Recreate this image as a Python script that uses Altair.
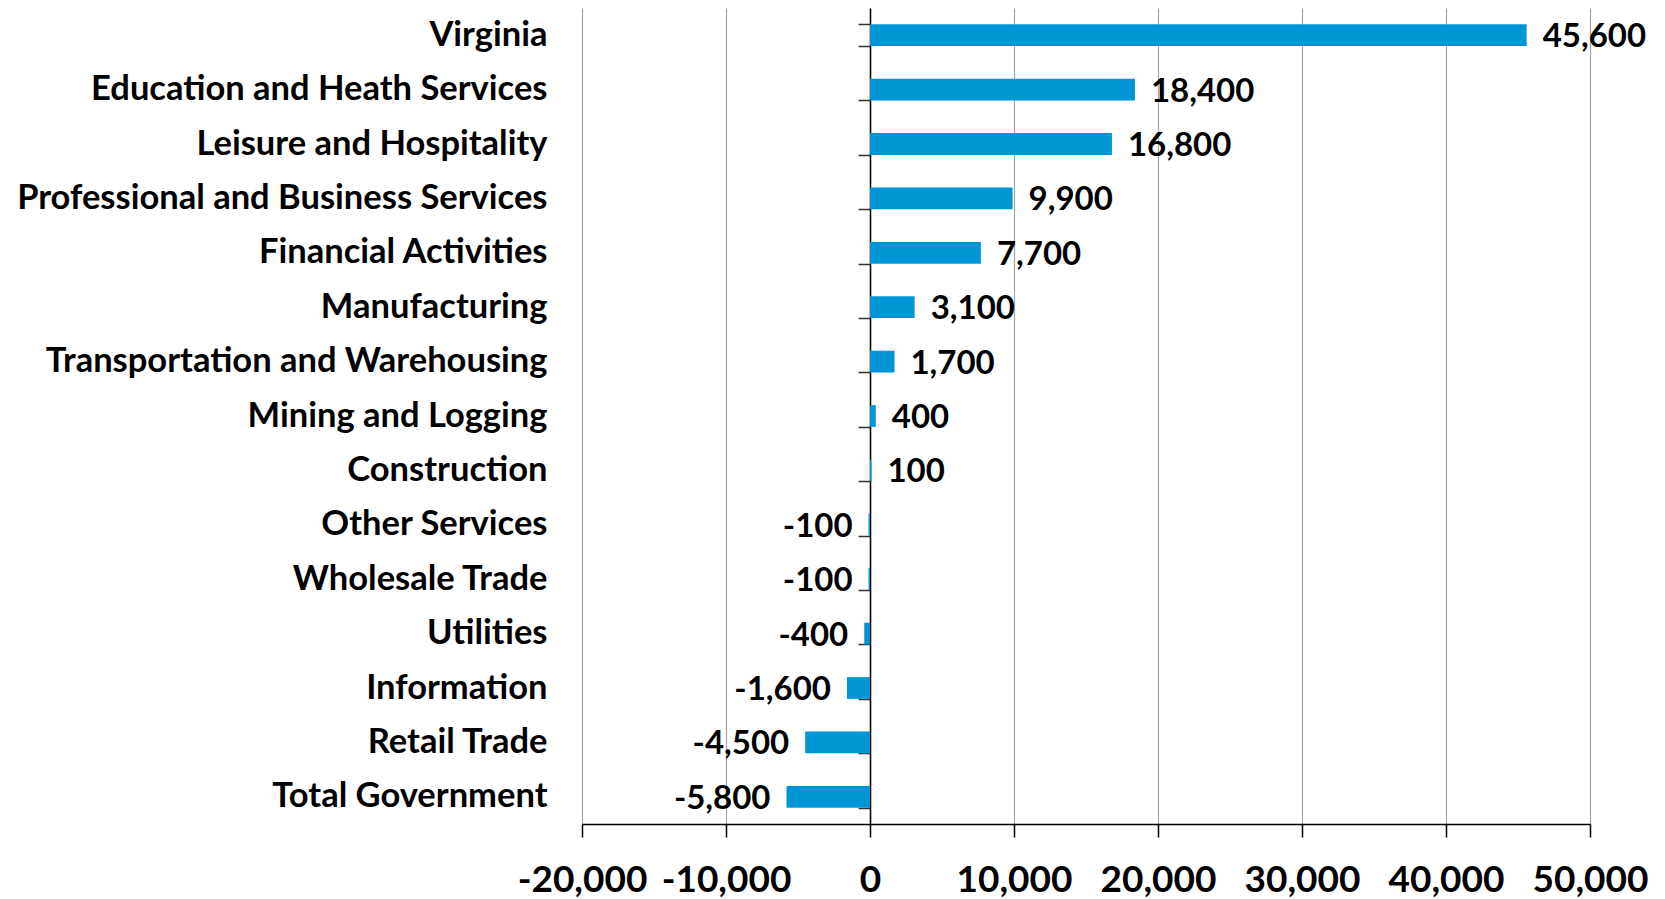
import altair as alt
import pandas as pd

categories = [
    "Virginia",
    "Education and Heath Services",
    "Leisure and Hospitality",
    "Professional and Business Services",
    "Financial Activities",
    "Manufacturing",
    "Transportation and Warehousing",
    "Mining and Logging",
    "Construction",
    "Other Services",
    "Wholesale Trade",
    "Utilities",
    "Information",
    "Retail Trade",
    "Total Government",
]
values = [45600, 18400, 16800, 9900, 7700, 3100, 1700, 400, 100,
          -100, -100, -400, -1600, -4500, -5800]
x_ticks = [-20000, -10000, 0, 10000, 20000, 30000, 40000, 50000]

df = pd.DataFrame({"category": categories, "value": values})

FONT = "Lato"
BLUE = "#0096d6"
FMT = "replace(format(datum.value, ','), '\u2212', '-')"

y_enc = alt.Y(
    "category:N",
    sort=categories,
    title=None,
    scale=alt.Scale(paddingInner=0.6, paddingOuter=0.3),
    axis=alt.Axis(
        offset=-288,
        domain=True,
        domainColor="#000000",
        domainWidth=1.5,
        ticks=True,
        tickBand="extent",
        tickSize=12,
        tickColor="#333333",
        tickWidth=1.5,
        labelPadding=311,
        labelLimit=1000,
        labelFont=FONT,
        labelFontSize=34.5,
        labelFontWeight="bold",
        labelColor="#000000",
        grid=False,
    ),
)

x_enc = alt.X(
    "value:Q",
    title=None,
    scale=alt.Scale(domain=[-20000, 50000], nice=False),
    axis=alt.Axis(
        values=x_ticks,
        labelExpr=FMT,
        domain=True,
        domainColor="#000000",
        domainWidth=1.5,
        ticks=True,
        tickSize=13,
        tickColor="#000000",
        tickWidth=1.5,
        labelPadding=25,
        labelFont=FONT,
        labelFontSize=37,
        labelFontWeight="bold",
        labelColor="#000000",
        labelFlush=False,
        labelOverlap=False,
        labelLimit=1000,
        grid=True,
        gridColor="#a6a6a6",
        gridWidth=1.2,
    ),
)

base = alt.Chart(df).transform_calculate(label=FMT)

bars = base.mark_bar(color=BLUE).encode(x=x_enc, y=y_enc)

pos_text = base.transform_filter("datum.value > 0").mark_text(
    align="left", baseline="middle", dx=16, dy=2,
    font=FONT, fontSize=33, fontWeight="bold", color="#000000",
).encode(x=x_enc, y=y_enc, text="label:N")

neg_text = base.transform_filter("datum.value < 0").mark_text(
    align="right", baseline="middle", dx=-16, dy=2,
    font=FONT, fontSize=33, fontWeight="bold", color="#000000",
).encode(x=x_enc, y=y_enc, text="label:N")

chart = alt.layer(bars, pos_text, neg_text).properties(
    width=1008,
    height=816,
    autosize=alt.AutoSizeParams(type="none"),
    padding={"left": 574, "top": 0, "right": 67, "bottom": 75},
    view=alt.ViewBackground(stroke="transparent", strokeWidth=0, strokeOpacity=0),
).configure_view(strokeWidth=0, stroke="transparent", strokeOpacity=0).configure(background="white")

chart.save("out.html", embed_options={"renderer": "svg", "actions": False})
